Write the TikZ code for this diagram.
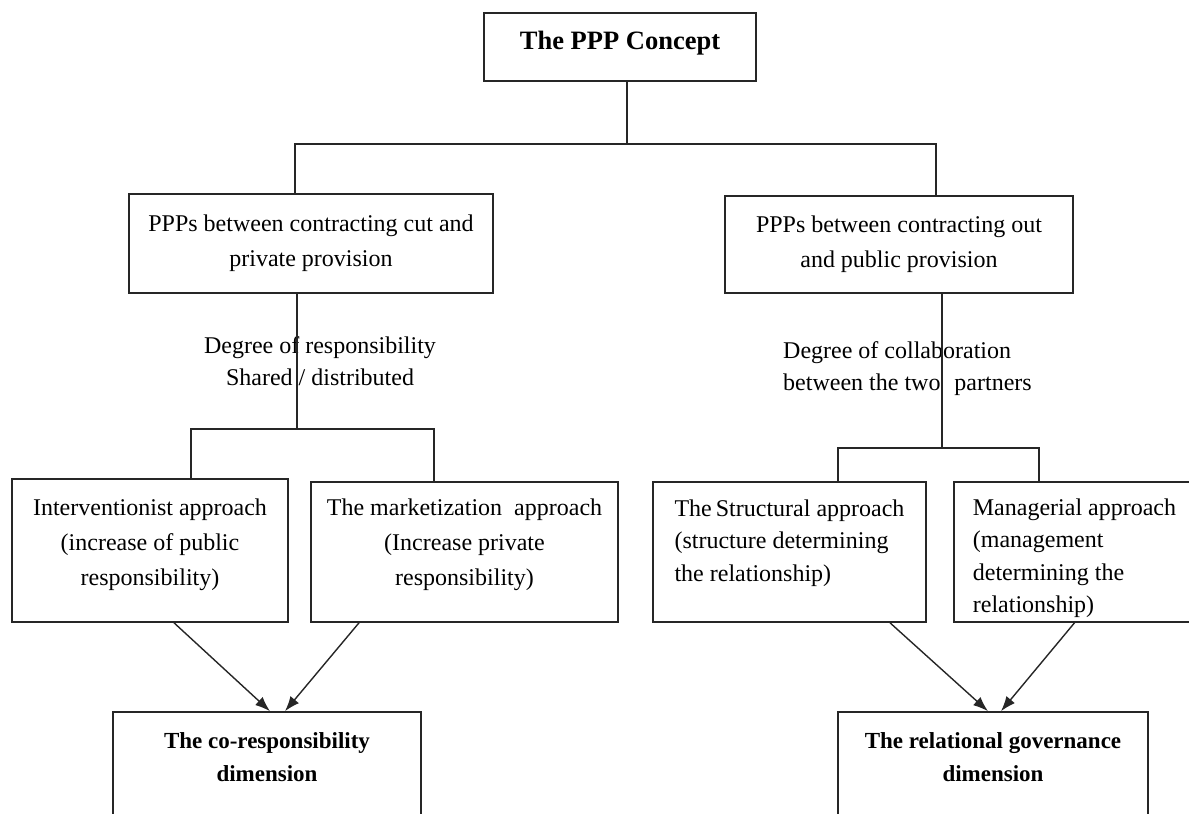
\documentclass[tikz,border=0pt]{standalone}
\usepackage{fontspec}
\setmainfont{Liberation Serif}
\usetikzlibrary{arrows.meta,calc}
\tikzset{
  box/.style={draw=black!85, line width=1.6pt, rectangle, inner sep=0pt, align=center,
              font=\fontsize{24}{35}\selectfont},
  txt/.style={align=center, inner sep=0pt, font=\fontsize{24}{35}\selectfont},
  ltxt/.style={align=left, inner sep=0pt, font=\fontsize{24}{32.5}\selectfont},
  conn/.style={draw=black!85, line width=1.6pt},
  arr/.style={draw=black!85, line width=1.4pt, -{Latex[length=15pt,width=11pt]}},
  lbl/.style={align=center, inner sep=0pt, font=\fontsize{24}{32}\selectfont},
  dimtxt/.style={align=center, inner sep=0pt, font=\bfseries\fontsize{23}{33}\selectfont}
}
\begin{document}
\begin{tikzpicture}[x=1pt,y=-1pt]
\useasboundingbox (0,0) rectangle (1189,814);
\clip (0,0) rectangle (1189,814);
% top
\node[box, minimum width=272, minimum height=68] (ppp) at (620,47) {};
\node[txt, font=\bfseries\fontsize{26.5}{30}\selectfont] (ppptxt) at (620,43) {The PPP Concept};
% second level
\node[box, minimum width=364, minimum height=99] (left) at (311,243.5) {PPPs between contracting cut and\\private provision};
\node[box, minimum width=348, minimum height=97] (right) at (899,244.5) {PPPs between contracting out\\and public provision};
% third level
\node[box, minimum width=276, minimum height=143] (interv) at (150,550.5) {};
\node[txt] (intervtxt) at (150,544.5) {Interventionist approach\\(increase of public\\responsibility)};
\node[box, minimum width=307, minimum height=140] (market) at (464.5,552) {};
\node[txt] (markettxt) at (464.5,545) {The marketization\ \ approach\\(Increase private\\responsibility)};
\node[box, minimum width=273, minimum height=140] (struct) at (789.5,552) {};
\node[ltxt] (structtxt) at (789.5,543) {The\,Structural approach\\(structure determining\\the relationship)};
\node[box, minimum width=241, minimum height=140] (manag) at (1074.5,552) {};
\node[ltxt] (managtxt) at (1074.5,558) {Managerial approach\\(management\\determining the\\relationship)};
% bottom
\node[box, minimum width=308, minimum height=128] (co) at (267,776) {};
\node[dimtxt] (cotxt) at (267,757) {The co-responsibility\\dimension};
\node[box, minimum width=310, minimum height=128] (rg) at (993,776) {};
\node[dimtxt] (rgtxt) at (993,757) {The relational governance\\dimension};
% labels
\node[lbl] (lab1) at (320,361) {Degree of responsibility\\Shared / distributed};
\node[lbl, align=left, anchor=west] (lab2) at (783,369) {Degree of collaboration\\between the two\hspace{14pt}partners};
% tree connectors
\draw[conn] ([xshift=7pt]ppp.south) -- ++(0,62) coordinate (j1);
\draw[conn] ([xshift=-16pt]left.north) |- (j1);
\draw[conn] ([xshift=37pt]right.north) |- (j1);
\draw[conn] ([xshift=-14pt]left.south) -- ++(0,135) coordinate (j2);
\draw[conn] ([xshift=41pt]interv.north) |- (j2);
\draw[conn] ([xshift=-30.5pt]market.north) |- (j2);
\draw[conn] ([xshift=43pt]right.south) -- ++(0,154) coordinate (j3);
\draw[conn] ([xshift=48.5pt]struct.north) |- (j3);
\draw[conn] ([xshift=-35.5pt]manag.north) |- (j3);
% arrows
\draw[arr] ([xshift=24pt]interv.south) -- ([xshift=3pt]co.north);
\draw[arr] ([xshift=-105.5pt]market.south) -- ([xshift=18pt]co.north);
\draw[arr] ([xshift=100.5pt]struct.south) -- ([xshift=-5pt]rg.north);
\draw[arr] (manag.south) -- ([xshift=8pt]rg.north);
\end{tikzpicture}
\end{document}
